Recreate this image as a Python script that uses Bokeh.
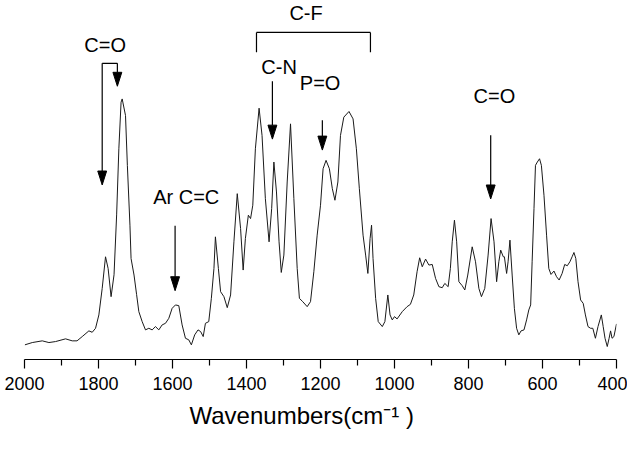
from bokeh.plotting import figure
from bokeh.models import Range1d, FixedTicker, Label, Title
from bokeh.embed import file_html
from bokeh.resources import INLINE

# ---- spectrum data (wavenumber, relative intensity) ----
wavenumber = [1999, 1979, 1952, 1934, 1916, 1889, 1871, 1858, 1844, 1826, 1817, 1808, 1799, 1790,
              1781, 1774, 1766, 1758, 1751, 1745, 1739, 1736, 1727, 1722, 1715, 1712, 1704, 1697,
              1691, 1682, 1673, 1664, 1655, 1646, 1637, 1628, 1619, 1610, 1601, 1592, 1583, 1574,
              1565, 1556, 1549, 1540, 1531, 1524, 1517, 1511, 1502, 1495, 1488, 1484, 1476, 1470,
              1461, 1452, 1443, 1434, 1425, 1416, 1409, 1403, 1395, 1389, 1383, 1376, 1366, 1358,
              1349, 1339, 1332, 1326, 1319, 1312, 1306, 1299, 1290, 1281, 1272, 1263, 1257, 1248,
              1236, 1227, 1218, 1209, 1200, 1193, 1185, 1176, 1168, 1161, 1153, 1146, 1137, 1123,
              1112, 1103, 1095, 1085, 1078, 1072, 1066, 1062, 1058, 1051, 1044, 1033, 1026, 1018,
              1012, 1006, 1000, 993, 979, 966, 957, 948, 939, 932, 925, 916, 907, 898, 889, 880,
              871, 864, 855, 849, 844, 838, 832, 826, 817, 810, 802, 790, 781, 772, 765, 756, 747,
              739, 731, 724, 718, 713, 706, 703, 697, 693, 688, 682, 676, 670, 664, 658, 650, 643,
              637, 632, 628, 623, 619, 614, 608, 603, 596, 589, 583, 577, 569, 562, 555, 547, 540,
              533, 526, 520, 515, 510, 504, 497, 490, 484, 477, 470, 464, 457, 450, 441, 436, 431,
              425, 420, 416, 412, 407, 400]
intensity = [14.7, 17, 18.7, 17, 18, 20.7, 18.7, 18.7, 23, 28.7, 27.3, 31.3, 44.7, 71.3,
             103, 91.3, 63, 85, 145, 211.3, 258, 261.3, 244.7, 194.7, 134.7, 101.3, 84.7, 65,
             48, 38, 29.7, 31.3, 29.7, 33, 29.7, 34.7, 36.3, 41.3, 51.3, 54.7, 54, 34.7,
             21.3, 19.7, 14.7, 24.7, 29.7, 28, 23, 36.3, 38, 61.3, 91.3, 123, 91.3, 68,
             63, 52, 64.7, 118, 166.3, 131.3, 89.7, 121.3, 144.7, 141.3, 154.7, 211.3, 252, 224.7,
             161.3, 118, 151.3, 198, 168, 118, 87.3, 104.7, 178, 236.3, 161.3, 91.3, 61.3, 58,
             53, 58, 88, 124.7, 154.7, 191.3, 199.7, 191.3, 171.3, 159.7, 178, 224.7, 243, 248.7,
             241.3, 211.3, 171.3, 124.7, 104.7, 86.3, 121.3, 134.7, 101.3, 61.3, 38, 33, 38, 64.7,
             44.7, 39.7, 43, 40.7, 48, 53, 55.3, 64.7, 88, 102, 93, 100.7, 94.7, 95.3, 81.3, 73,
             72, 76.3, 73, 91.3, 118, 139.7, 118, 78, 74, 69.7, 84.7, 113, 98, 71.3, 63, 71.3, 104.7,
             141.3, 118, 78, 98, 109.7, 103, 103, 86.3, 98, 119.7, 84.7, 51.3, 31.3, 24.7, 28.7, 29.7, 39.7,
             49.7, 54.7, 98, 151.3, 194.7, 198, 201.3, 194.7, 164.7, 124.7, 91.3, 85.3, 88.7, 83, 79.7, 86.3, 95.3,
             94, 98, 103, 107.3, 101.3, 78, 59.7, 56.3, 44.7, 33, 31.3, 31.3, 21.3, 33, 44.7, 33, 21.3,
             13, 21.3, 28.7, 21.3, 23, 35.7]

major_ticks = [2000, 1800, 1600, 1400, 1200, 1000, 800, 600, 400]
minor_ticks = [1900, 1700, 1500, 1300, 1100, 900, 700, 500]
x_title = "Wavenumbers(cm\u207b\u00b9 )"

# ---- annotation data ----
label_texts = ["C=O", "C-F", "C-N", "P=O", "C=O", "Ar C=C"]
label_x = [1782, 1239, 1312, 1201, 730, 1563]
label_y = [315, 347, 293.5, 277.5, 264.5, 163]

# arrows: x position, start height, tip height
arrow_x = [1790, 1749, 1330, 1195, 740, 1593]
arrow_y0 = [297, 297, 279, 240, 225, 134]
arrow_y1 = [175, 274, 221, 210, 161, 69]

# bracket lines
seg_x0 = [1790, 1373, 1373, 1065]
seg_x1 = [1749, 1065, 1373, 1065]
seg_y0 = [297, 328, 328, 328]
seg_y1 = [297, 328, 308, 308]

FONT = "Liberation Sans"
HEAD_LEN = 14      # arrow-head length (y units = px)
HEAD_HALF_W = 12   # arrow-head half width (x units, 0.37 px each)

p = figure(width=627, height=436, output_backend="svg", toolbar_location=None,
           x_range=Range1d(2000, 400), y_range=Range1d(0, 360),
           min_border_left=24, min_border_right=11, min_border_top=0, min_border_bottom=76)

p.line(wavenumber, intensity, line_color="#1a1a1a", line_width=1)

p.yaxis.visible = False
p.grid.visible = False
p.outline_line_color = None

xa = p.xaxis[0]
xa.ticker = FixedTicker(ticks=major_ticks, minor_ticks=minor_ticks)
xa.major_tick_in = 0
xa.major_tick_out = 9
xa.minor_tick_in = 0
xa.minor_tick_out = 6
xa.axis_line_width = 1.2
xa.major_tick_line_width = 1.2
xa.minor_tick_line_width = 1.2
xa.major_label_text_font = FONT
xa.major_label_text_font_size = "18px"
xa.major_label_text_color = "black"
xa.major_label_standoff = 8

# brackets
p.segment(x0=seg_x0, y0=seg_y0, x1=seg_x1, y1=seg_y1, line_color="black", line_width=1.2)

# arrow shafts and heads
p.segment(x0=arrow_x, y0=arrow_y0, x1=arrow_x, y1=[y + HEAD_LEN for y in arrow_y1],
          line_color="black", line_width=1.2)
head_xs = [[x - HEAD_HALF_W, x + HEAD_HALF_W, x] for x in arrow_x]
head_ys = [[y + HEAD_LEN, y + HEAD_LEN, y] for y in arrow_y1]
p.patches(head_xs, head_ys, fill_color="black", line_color="black", line_width=1)

for t, x, y in zip(label_texts, label_x, label_y):
    p.add_layout(Label(x=x, y=y, text=t, text_align="center", text_baseline="middle",
                       text_font=FONT, text_font_size="20px", text_color="black"))

# axis title, below the axis
p.add_layout(Title(text=x_title, align="left", offset=165, standoff=15,
                   text_font=FONT, text_font_size="24px", text_font_style="normal",
                   text_color="black"), "below")

open("out.html", "w").write(file_html(p, INLINE))
